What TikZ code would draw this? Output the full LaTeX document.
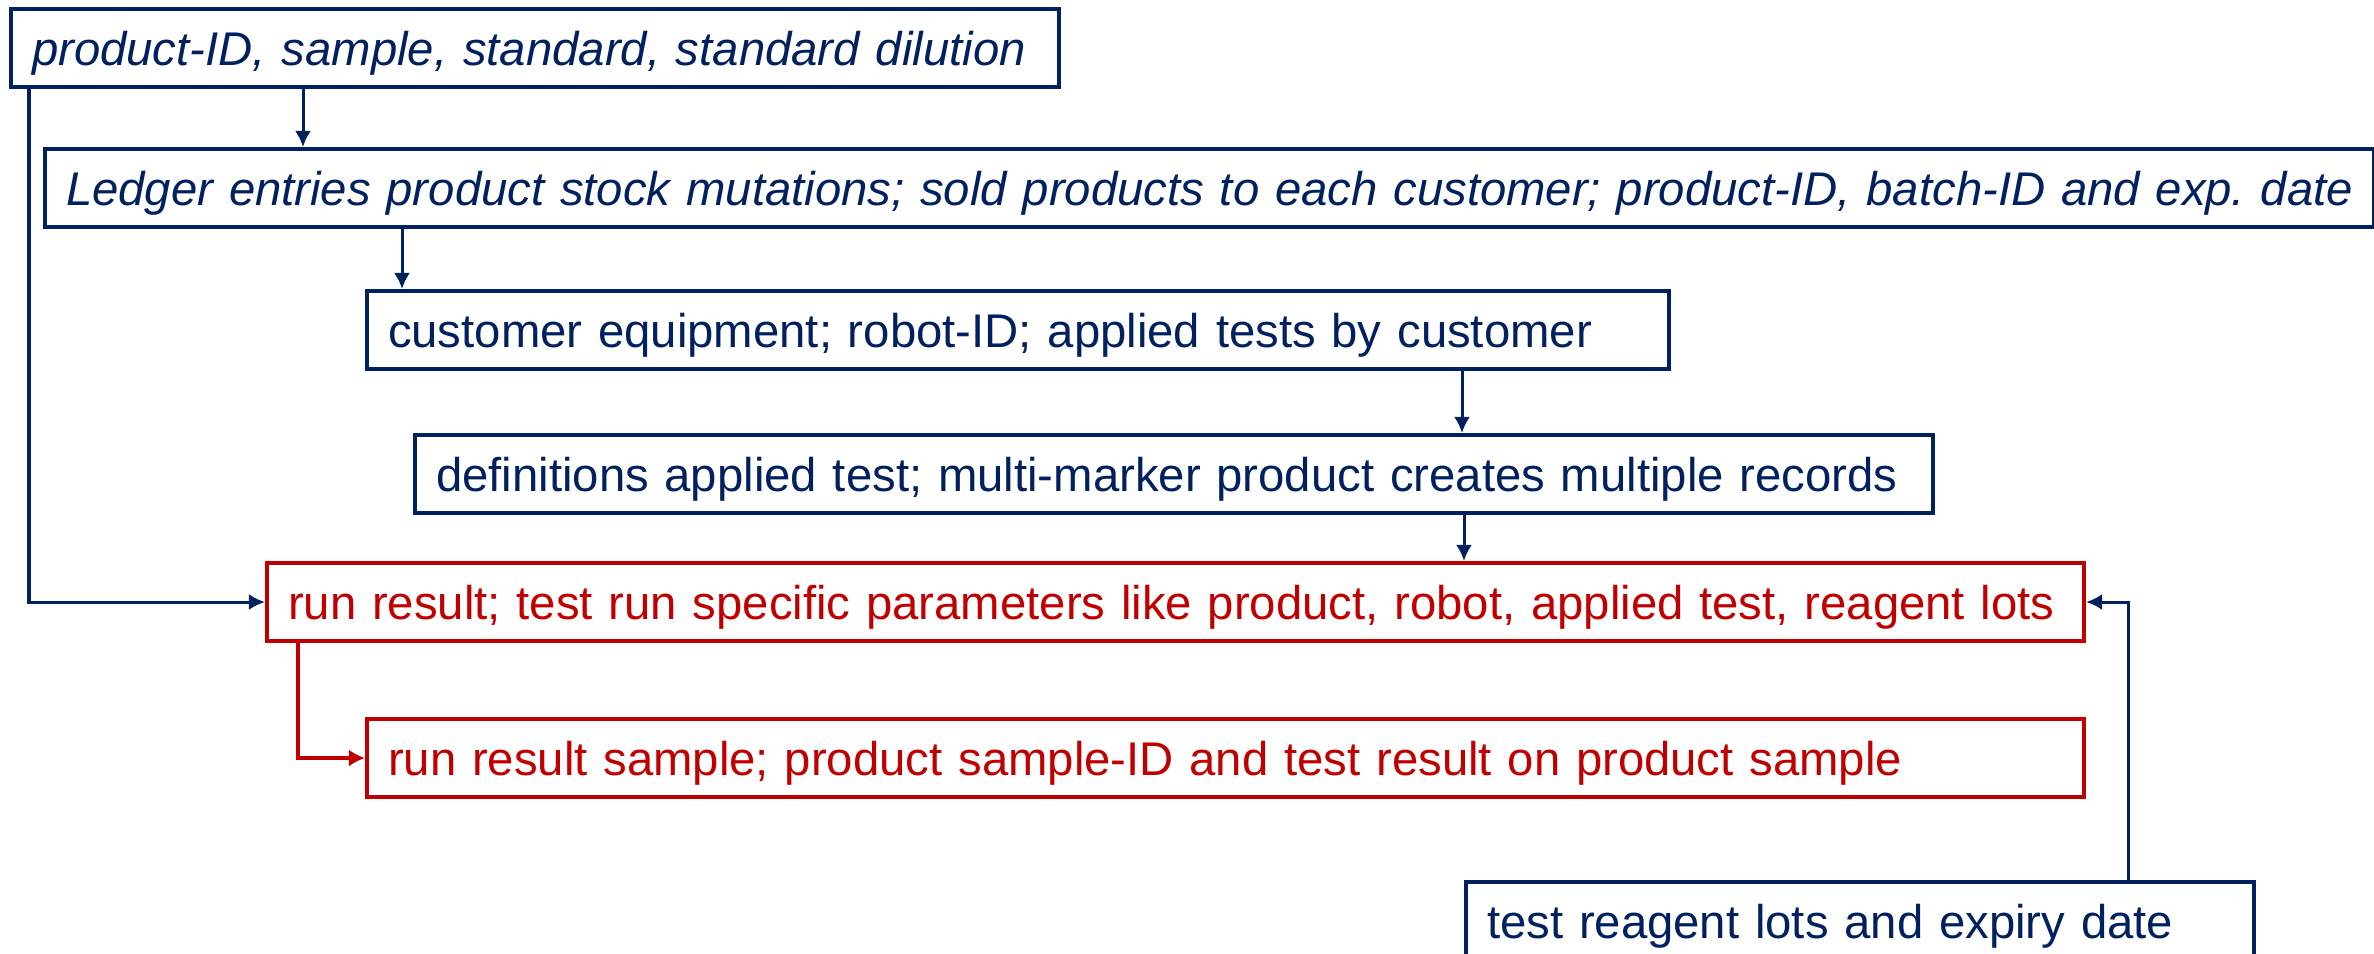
\documentclass[tikz,border=0pt]{standalone}
\usepackage{fontspec}
\setmainfont{Liberation Sans}
\usetikzlibrary{arrows.meta}
\frenchspacing
\definecolor{navy}{RGB}{0,32,96}
\definecolor{darkred}{RGB}{192,0,0}
\tikzset{
  box/.style={draw=navy, text=navy, line width=0.04cm, anchor=north west,
    inner xsep=0.21cm, inner ysep=0pt, text height=0.56cm, text depth=0.22cm,
    align=left, font=\fontsize{13.45pt}{16pt}\selectfont},
  redbox/.style={box, draw=darkred, text=darkred},
  ibox/.style={box, font=\fontsize{13.45pt}{16pt}\selectfont\itshape},
  conn/.style={draw=navy, line width=0.03cm, -{Latex[length=0.16cm,width=0.16cm]}},
  redconn/.style={draw=darkred, line width=0.034cm, -{Latex[length=0.16cm,width=0.17cm]}}
}
\begin{document}
\begin{tikzpicture}[x=0.01cm,y=-0.01cm]
\useasboundingbox (0,0) rectangle (2374,954);
\clip (0,0) rectangle (2374,954);
\node[ibox, text width=10.05cm] (b1) at (9,7) {\mbox{product-ID, sample, standard, standard dilution}};
\node[ibox, text width=22.86cm] (b2) at (43,147) {\mbox{Ledger entries product stock mutations; sold products to each customer; product-ID, batch-ID and exp. date}};
\node[box, text width=12.59cm] (b3) at (365,289) {\mbox{customer equipment; robot-ID; applied tests by customer}};
\node[box, text width=14.75cm] (b4) at (413,433) {\mbox{definitions applied test; multi-marker product creates multiple records}};
\node[redbox, text width=17.74cm] (b5) at (265,561) {\mbox{run result; test run specific parameters like product, robot, applied test, reagent lots}};
\node[redbox, text width=16.74cm] (b6) at (365,717) {\mbox{run result sample; product sample-ID and test result on product sample}};
\node[box, text width=7.46cm] (b7) at (1464,880) {\mbox{test reagent lots and expiry date}};

\coordinate (c12) at (303,0);
\coordinate (c23) at (402,0);
\coordinate (c34) at (1462,0);
\coordinate (c45) at (1464,0);
\coordinate (cL) at (29,0);
\coordinate (c56) at (298,0);
\coordinate (c75) at (2128,0);

\draw[conn] (c12 |- b1.south) -- (c12 |- b2.north);
\draw[conn] (c23 |- b2.south) -- (c23 |- b3.north);
\draw[conn] (c34 |- b3.south) -- (c34 |- b4.north);
\draw[conn] (c45 |- b4.south) -- (c45 |- b5.north);
\draw[conn] (cL |- b1.south) |- (b5.west);
\draw[redconn] (c56 |- b5.south) |- (b6.west);
\draw[conn] (c75 |- b7.north) |- (b5.east);
\end{tikzpicture}
\end{document}
